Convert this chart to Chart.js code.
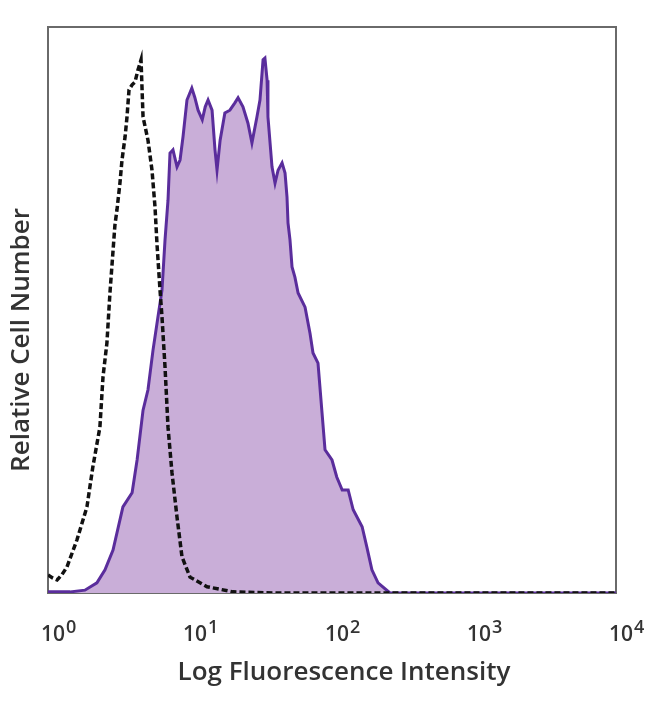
<!DOCTYPE html>
<html>
<head>
<meta charset="utf-8">
<script src="https://cdn.jsdelivr.net/npm/chart.js@4/dist/chart.umd.min.js"></script>
<style>
html,body{margin:0;padding:0;background:#fff;}
#wrap{width:650px;height:704px;}
</style>
</head>
<body>
<div id="wrap"><canvas id="c" width="650" height="704"></canvas></div>
<script>
// Stained sample (filled purple histogram)
const stainedX = [1, 1.43, 1.82, 2.21, 2.52, 2.87, 3.37, 3.91, 4.24, 4.67, 5.06, 5.49, 5.95, 6.35, 6.67, 7.00, 7.23, 7.59, 8.10, 8.51, 8.93, 9.52, 10.3, 10.8, 11.4, 12.2, 12.8, 13.4, 14.3, 15.0, 15.5, 16.3, 17.6, 19.1, 20.7, 21.8, 23.6, 25.6, 27.3, 29.6, 31.1, 32.7, 33.7, 34.9, 35.4, 37.8, 39.7, 41.7, 44.5, 46.7, 48.2, 49.0, 50.6, 52.3, 54.8, 57.7, 64.6, 70.0, 73.5, 79.7, 85.1, 89.3, 100, 108, 118, 130, 141, 163, 176, 191, 211, 256, 10000];
const stainedY = [0.2, 0.2, 0.5, 1.8, 4.1, 7.6, 15.2, 17.7, 23.5, 32.3, 35.9, 42.9, 48.8, 53.5, 62.4, 69.4, 77.7, 78.3, 75.3, 76.5, 80.6, 87.1, 89.2, 87.6, 85.3, 83.6, 85.9, 87.1, 85.3, 78.3, 74.7, 80.0, 84.8, 85.3, 86.6, 87.5, 85.9, 83.0, 79.5, 84.1, 87.1, 94.2, 94.5, 90.6, 84.1, 75.3, 72.4, 74.7, 76.0, 74.2, 70.0, 65.4, 62.4, 57.6, 55.8, 53.0, 50.5, 45.9, 42.4, 40.6, 31.8, 25.3, 23.5, 20.5, 18.2, 18.2, 14.7, 11.7, 8.1, 4.1, 1.8, 0, 0];
// Isotype control (dashed black histogram)
const controlX = [1, 1.07, 1.16, 1.25, 1.36, 1.60, 1.88, 2.07, 2.32, 2.44, 2.60, 2.73, 2.96, 3.06, 3.21, 3.32, 3.49, 3.60, 3.72, 3.91, 4.10, 4.30, 4.52, 4.67, 5.06, 5.40, 5.67, 5.86, 6.15, 6.35, 6.67, 7.00, 7.47, 8.10, 8.78, 10.0, 13.2, 20.1, 40, 10000];
const controlY = [3.2, 2.7, 2.3, 3.2, 4.6, 9.4, 15.2, 22.3, 29.3, 38.2, 44.2, 53.0, 65.0, 67.7, 72.4, 76.5, 80.6, 84.1, 88.9, 89.8, 90.3, 92.4, 94.2, 84.1, 80.0, 74.7, 68.2, 61.5, 53.5, 48.8, 39.9, 29.3, 21.2, 13.4, 6.4, 2.8, 1.1, 0.2, 0, 0];
// Axis ticks: 10^exp
const tickValues = [1, 10, 100, 1000, 10000];
const tickBase = '10';
const tickExponents = ['0', '1', '2', '3', '4'];
const xTitle = 'Log Fluorescence Intensity';
const yTitle = 'Relative Cell Number';

const toPts = (xs, ys) => xs.map((x, i) => ({x: x, y: ys[i]}));
const frame = '#6a6a6a';
const textColor = '#333333';
const FONT = '"Open Sans", "DejaVu Sans", sans-serif';
const LABEL_OFFSET = 5;

// Draws superscript exponents next to the tick labels, and the axis titles
const decorations = {
  id: 'decorations',
  afterDraw(chart) {
    const ctx = chart.ctx;
    const xs = chart.scales.x;
    const area = chart.chartArea;
    ctx.save();
    ctx.fillStyle = textColor;
    ctx.font = '600 21px ' + FONT;
    const baseW = ctx.measureText(tickBase).width;
    ctx.font = '600 18px ' + FONT;
    ctx.textAlign = 'left';
    ctx.textBaseline = 'alphabetic';
    tickValues.forEach((v, i) => {
      const px = xs.getPixelForValue(v) + LABEL_OFFSET + baseW / 2 + 1;
      ctx.fillText(tickExponents[i], px, area.bottom + 40);
    });
    // x title
    ctx.font = '600 26px ' + FONT;
    ctx.textAlign = 'center';
    ctx.fillText(xTitle, (area.left + area.right) / 2 + 12, area.bottom + 87);
    // y title
    ctx.translate(area.left - 19, (area.top + area.bottom) / 2 + 30);
    ctx.rotate(-Math.PI / 2);
    ctx.fillText(yTitle, 0, 0);
    ctx.restore();
  }
};

new Chart(document.getElementById('c'), {
  type: 'line',
  data: {
    datasets: [
      {
        label: 'Control',
        data: toPts(controlX, controlY),
        borderColor: '#111111',
        borderWidth: 3.5,
        borderDash: [6, 3],
        pointRadius: 0,
        fill: false,
        tension: 0,
        order: 0
      },
      {
        label: 'Stained',
        data: toPts(stainedX, stainedY),
        borderColor: '#5a2d9c',
        backgroundColor: '#c9aed8',
        borderWidth: 3,
        pointRadius: 0,
        fill: 'origin',
        tension: 0,
        order: 1
      }
    ]
  },
  plugins: [decorations],
  options: {
    responsive: false,
    animation: false,
    layout: {padding: {top: 27, right: 4, left: 0, bottom: 0}},
    plugins: {legend: {display: false}, tooltip: {enabled: false}},
    scales: {
      x: {
        type: 'logarithmic',
        min: 1, max: 10000,
        afterBuildTicks: s => { s.ticks = tickValues.map(v => ({value: v})); },
        afterFit: s => { s.height = 111; },
        grid: {display: false, drawTicks: false},
        border: {display: true, color: frame, width: 2},
        ticks: {
          callback: (v) => tickValues.indexOf(v) >= 0 ? tickBase : '',
          autoSkip: false, maxRotation: 0,
          padding: 19, labelOffset: LABEL_OFFSET,
          color: textColor, font: {family: FONT, size: 21, weight: '600', lineHeight: 2.2}
        },
        title: {display: false}
      },
      x2: {
        type: 'logarithmic', position: 'top', min: 1, max: 10000,
        grid: {display: false, drawTicks: false},
        border: {display: true, color: frame, width: 2},
        ticks: {display: false},
        afterFit: s => { s.height = 0; }
      },
      y: {
        min: 0, max: 100,
        afterFit: s => { s.width = 48; },
        grid: {display: false, drawTicks: false},
        border: {display: true, color: frame, width: 2},
        ticks: {display: false},
        title: {display: false}
      },
      y2: {
        position: 'right', min: 0, max: 100,
        grid: {display: false, drawTicks: false},
        border: {display: true, color: frame, width: 2},
        ticks: {display: false},
        afterFit: s => { s.width = 30; }
      }
    }
  }
});
</script>
</body>
</html>
